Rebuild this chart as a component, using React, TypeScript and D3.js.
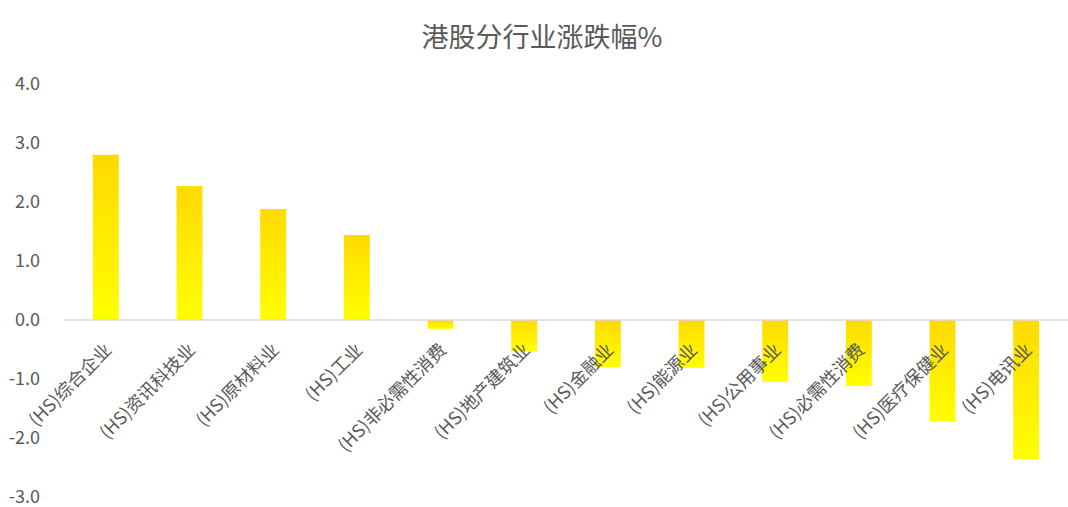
import React from "react";
import * as d3 from "d3";

const categories = [
  "(HS)综合企业",
  "(HS)资讯科技业",
  "(HS)原材料业",
  "(HS)工业",
  "(HS)非必需性消费",
  "(HS)地产建筑业",
  "(HS)金融业",
  "(HS)能源业",
  "(HS)公用事业",
  "(HS)必需性消费",
  "(HS)医疗保健业",
  "(HS)电讯业",
];
const values = [2.8, 2.27, 1.88, 1.44, -0.15, -0.53, -0.8, -0.81, -1.05, -1.12, -1.72, -2.36];
const yTicks = [4, 3, 2, 1, 0, -1, -2, -3];
const title = "港股分行业涨跌幅%";

const W = 1068;
const H = 507;
const FONT = "'Noto Sans CJK SC', 'Noto Sans', sans-serif";

export default function App() {
  const x = d3
    .scaleBand<string>()
    .domain(categories)
    .range([64, 1068])
    .paddingInner(0.69)
    .paddingOuter(0.345);
  const y = d3.scaleLinear().domain([-3, 4]).range([497, 84]);
  const y0 = y(0);

  return (
    <svg
      width={W}
      height={H}
      style={{ position: "absolute", left: 0, top: 0, background: "#fff" }}
      fontFamily={FONT}
    >
      <defs>
        <linearGradient id="barGrad" x1="0" y1="0" x2="0" y2="1">
          <stop offset="0%" stopColor="#FFDA00" />
          <stop offset="100%" stopColor="#FFFF00" />
        </linearGradient>
      </defs>
      <text
        x={542}
        y={47}
        textAnchor="middle"
        fontSize={27}
        fill="#595959"
      >
        {title}
      </text>
      {yTicks.map((t) => (
        <text
          key={t}
          x={40}
          y={y(t)}
          dy="0.35em"
          textAnchor="end"
          fontSize={18}
          fill="#595959"
        >
          {t.toFixed(1)}
        </text>
      ))}
      {categories.map((c, i) => {
        const v = values[i];
        const top = Math.min(y(v), y0);
        const h = Math.abs(y(v) - y0);
        return (
          <rect
            key={c}
            x={x(c)}
            y={top}
            width={x.bandwidth()}
            height={h}
            fill="url(#barGrad)"
          />
        );
      })}
      <line x1={64} x2={1068} y1={y0} y2={y0} stroke="#d9d9d9" strokeWidth={1.5} />
      {categories.map((c) => {
        const cx = (x(c) as number) + x.bandwidth() / 2;
        return (
          <text
            key={"l" + c}
            transform={`translate(${cx + 7},${y0 + 31}) rotate(-45)`}
            textAnchor="end"
            fontSize={18}
            fill="#595959"
          >
            {c}
          </text>
        );
      })}
    </svg>
  );
}
